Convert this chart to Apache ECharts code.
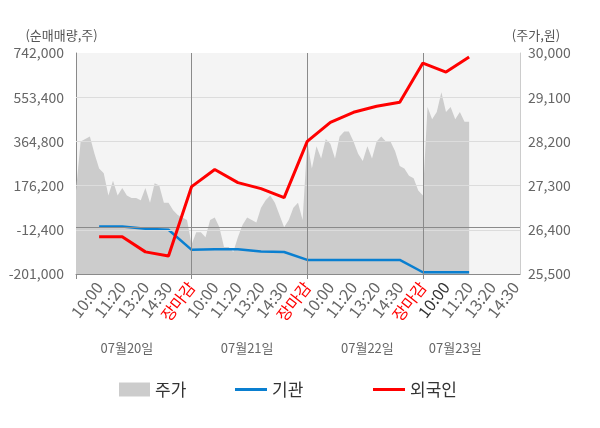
<!DOCTYPE html>
<html><head><meta charset="utf-8">
<script src="https://cdn.jsdelivr.net/npm/echarts@6/dist/echarts.min.js"></script>
<style>html,body{margin:0;padding:0;background:#fff}#c{width:600px;height:428px}</style>
</head><body><div id="c"></div>
<script>
const timeLabels = ['10:00','11:20','13:20','14:30','장마감'];
const dateLabels = ['07월20일','07월21일','07월22일','07월23일'];
const leftTicks = [-201000,-12400,176200,364800,553400,742000];
const rightTicks = [25500,26400,27300,28200,29100,30000];
// price (원), 5 points per label slot, starting at market open of 07/20
const price = [
 27200,28200,28250,28300,27950,27650,27550,27100,27400,27100,
 27250,27100,27050,27050,27000,27250,26950,27350,27300,26950,
 26950,26800,26700,26650,26600,26100,26350,26350,26250,26600,
 26650,26450,26050,26050,25950,26250,26500,26650,26600,26550,
 26850,27000,27100,26950,26700,26450,26600,26850,26950,26600,
 28200,27650,28100,27850,28250,28150,27850,28300,28400,28400,
 28200,27950,27800,28100,27850,28200,28300,28200,28200,28000,
 27700,27650,27500,27450,27200,27100,28900,28650,28800,29200,
 28800,28900,28650,28800,28600,28600
];
// cumulative net buying (주) at each time label
const foreign = [-42300,-42300,-106600,-123800,172000,244800,189100,163400,124800,364800,446300,489100,514800,532000,699100,660600,724900];
const institution = [2000,2000,-8000,-12000,-98000,-95000,-95000,-105000,-107000,-141000,-141000,-141000,-141000,-141000,-193600,-193600,-193600];

const STEP = 5, DAYS = 4;
const N = STEP * timeLabels.length * DAYS - 3; // 97 categories
const categories = [];
for (let i = 0; i < N; i++) {
  categories.push(i > 0 && i % STEP === 0 ? timeLabels[(i / STEP - 1) % timeLabels.length] : '');
}
function atLabels(arr) {
  const out = new Array(N).fill(null);
  arr.forEach((v, k) => { out[(k + 1) * STEP] = v; });
  return out;
}
const dayLen = STEP * timeLabels.length;
const dateLabelIdx = [11, 37, 63, 82];
const FONT = "'Noto Sans CJK KR','Noto Sans',sans-serif";

const chart = echarts.init(document.getElementById('c'), null, {renderer: 'canvas'});
const gridLines = leftTicks.slice(1, leftTicks.length - 1).map(v => ({yAxis: v, lineStyle: {color: '#dcdcdc', width: 1, type: 'solid'}}));
const dayLines = [1, 2, 3].map(d => ({xAxis: d * dayLen, lineStyle: {color: '#8a8a8a', width: 1, type: 'solid'}}));

chart.setOption({
  animation: false,
  textStyle: {fontFamily: FONT},
  grid: {left: 76, right: 80, top: 53, bottom: 154, show: true, backgroundColor: '#f4f4f4', borderWidth: 0},
  legend: [
    {data: ['주가'], left: 114, top: 376, icon: 'rect', itemWidth: 31, itemHeight: 14, itemGap: 8,
     textStyle: {fontSize: 17, color: '#333', fontFamily: FONT}},
    {data: ['기관'], left: 230, top: 376, icon: 'rect', itemWidth: 32, itemHeight: 3, itemGap: 8,
     textStyle: {fontSize: 17, color: '#333', fontFamily: FONT}},
    {data: ['외국인'], left: 368, top: 376, icon: 'rect', itemWidth: 32, itemHeight: 3, itemGap: 8,
     textStyle: {fontSize: 17, color: '#333', fontFamily: FONT}}
  ],
  xAxis: [
    {type: 'category', data: categories, boundaryGap: false,
     axisLine: {show: true, onZero: false, lineStyle: {color: '#8a8a8a'}},
     axisTick: {show: true, length: 5, interval: (i) => i % dayLen === 0, lineStyle: {color: '#8a8a8a'}},
     splitLine: {show: false},
     axisLabel: {interval: (i) => i > 0 && i % STEP === 0, rotate: 52, margin: 10, fontSize: 16, color: '#666', fontFamily: FONT,
       formatter: (v, i) => v === '장마감' ? '{r|' + v + '}' : (i === 80 ? '{d|' + v + '}' : v),
       rich: {r: {color: '#ff0000', fontSize: 16, fontFamily: FONT}, d: {color: '#333', fontSize: 16, fontFamily: FONT}}}},
    {type: 'category', data: categories, boundaryGap: false, position: 'bottom', offset: 62,
     axisLine: {show: false, onZero: false}, axisTick: {show: false}, splitLine: {show: false},
     axisLabel: {interval: (i) => dateLabelIdx.indexOf(i) >= 0, margin: 6, fontSize: 13, color: '#666', fontFamily: FONT,
       formatter: (v, i) => { const k = dateLabelIdx.indexOf(i); return k >= 0 ? dateLabels[k] : ''; }}}
  ],
  yAxis: [
    {type: 'value', min: leftTicks[0], max: leftTicks[leftTicks.length - 1], interval: leftTicks[1] - leftTicks[0],
     name: '(순매매량,주)', nameLocation: 'end', nameGap: 11,
     nameTextStyle: {color: '#555', fontSize: 13, align: 'center', padding: [0, 29, 0, 0], fontFamily: FONT},
     axisLine: {show: true, lineStyle: {color: '#8a8a8a'}}, axisTick: {show: false}, splitLine: {show: false},
     axisLabel: {margin: 12, fontSize: 14, color: '#666', fontFamily: FONT, formatter: (v) => v.toLocaleString('en-US')}},
    {type: 'value', min: rightTicks[0], max: rightTicks[rightTicks.length - 1], interval: rightTicks[1] - rightTicks[0],
     position: 'right', name: '(주가,원)', nameLocation: 'end', nameGap: 11,
     nameTextStyle: {color: '#555', fontSize: 13, align: 'center', padding: [0, 0, 0, 32], fontFamily: FONT},
     axisLine: {show: true, lineStyle: {color: '#cccccc'}}, axisTick: {show: false}, splitLine: {show: false},
     axisLabel: {margin: 8, fontSize: 14, color: '#666', fontFamily: FONT, formatter: (v) => v.toLocaleString('en-US')}}
  ],
  series: [
    {name: '주가', type: 'line', yAxisIndex: 1, data: price, symbol: 'none', z: 1,
     itemStyle: {color: '#cccccc'}, lineStyle: {width: 0, color: '#cccccc'},
     areaStyle: {color: '#cccccc', opacity: 1, origin: 'start'}},
    {name: '기관', type: 'line', yAxisIndex: 0, data: atLabels(institution), connectNulls: true, symbol: 'none', z: 4,
     itemStyle: {color: '#0a7fd0'}, lineStyle: {width: 2.5, color: '#0a7fd0'}},
    {name: '외국인', type: 'line', yAxisIndex: 0, data: atLabels(foreign), connectNulls: true, symbol: 'none', z: 5,
     itemStyle: {color: '#ff0000'}, lineStyle: {width: 3, color: '#ff0000'},
     markLine: {silent: true, symbol: ['none', 'none'], label: {show: false}, animation: false,
       data: gridLines.concat([{yAxis: 0, lineStyle: {color: '#8a8a8a', width: 1, type: 'solid'}}]).concat(dayLines)}}
  ]
});
</script></body></html>
